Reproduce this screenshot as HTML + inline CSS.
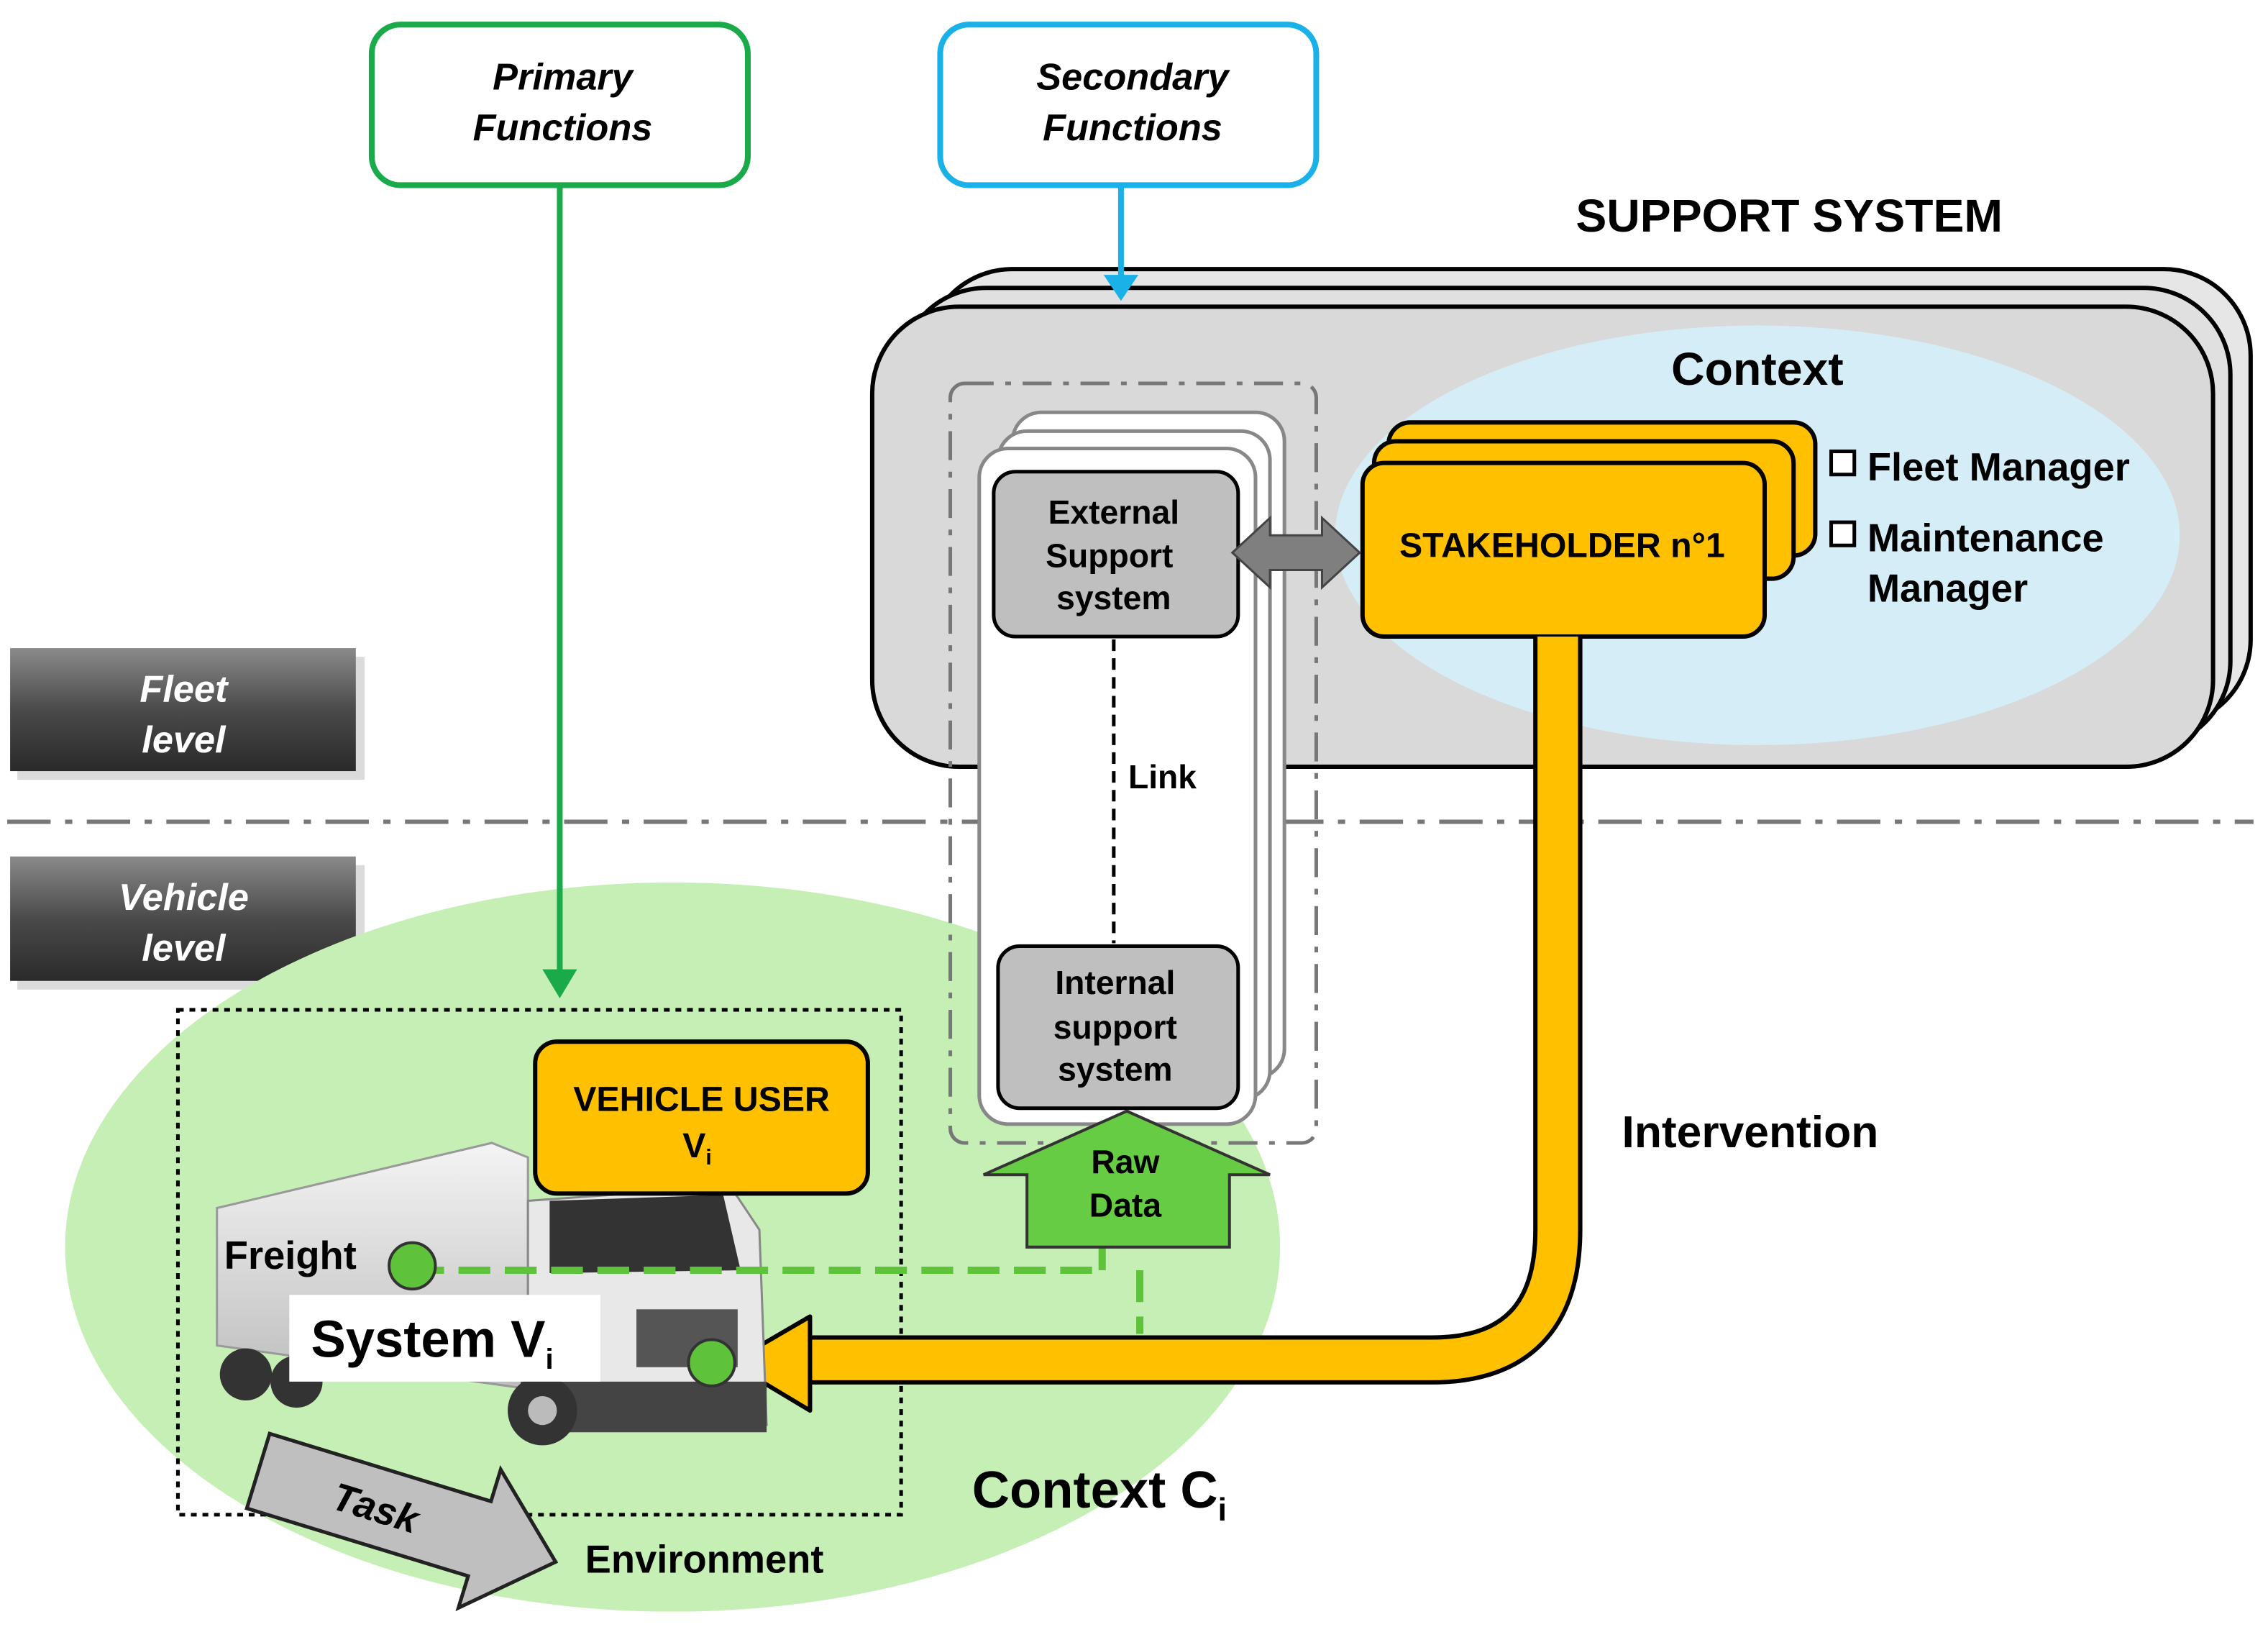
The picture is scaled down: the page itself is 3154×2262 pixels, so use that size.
<!DOCTYPE html>
<html><head><meta charset="utf-8"><style>
html,body{margin:0;padding:0;background:#fff;width:3154px;height:2262px;overflow:hidden}
svg{display:block}
text{font-family:"Liberation Sans",Arial,sans-serif;font-weight:bold}
</style></head><body>
<svg width="3154" height="2262" viewBox="0 0 1568 1124.6" preserveAspectRatio="none" xmlns="http://www.w3.org/2000/svg">
<defs>
<linearGradient id="lv" x1="0" y1="0" x2="0" y2="1"><stop offset="0" stop-color="#8a8a8a"/><stop offset="0.5" stop-color="#4a4a4a"/><stop offset="1" stop-color="#2a2a2a"/></linearGradient>
<linearGradient id="tr" x1="0" y1="0" x2="0" y2="1"><stop offset="0" stop-color="#f4f4f4"/><stop offset="1" stop-color="#bdbdbd"/></linearGradient>
</defs>
<rect x="257" y="17" width="260" height="111" rx="20" fill="#fff" stroke="#1aaa4a" stroke-width="4"/>
<text x="389" y="62" font-size="26" font-style="italic" text-anchor="middle">Primary</text>
<text x="389" y="97" font-size="26" font-style="italic" text-anchor="middle">Functions</text>
<rect x="650" y="17" width="260" height="111" rx="20" fill="#fff" stroke="#1ab0e8" stroke-width="4"/>
<text x="783" y="62" font-size="26" font-style="italic" text-anchor="middle">Secondary</text>
<text x="783" y="97" font-size="26" font-style="italic" text-anchor="middle">Functions</text>
<text x="1237" y="160" font-size="32" text-anchor="middle">SUPPORT SYSTEM</text>
<rect x="640" y="186" width="916" height="316" rx="60" fill="#e6e6e6" stroke="#000" stroke-width="3"/>
<rect x="622" y="199" width="920" height="318" rx="60" fill="#e0e0e0" stroke="#000" stroke-width="3"/>
<rect x="603" y="212" width="927" height="318" rx="60" fill="#d9d9d9" stroke="#000" stroke-width="3"/>
<line x1="775" y1="128" x2="775" y2="195" stroke="#1ab0e8" stroke-width="4"/>
<polygon points="763,190 787,190 775,208" fill="#1ab0e8"/>
<ellipse cx="1215" cy="370" rx="292" ry="145" fill="#d5edf7"/>
<text x="1215" y="266" font-size="32" text-anchor="middle">Context</text>
<line x1="5" y1="568" x2="1558" y2="568" stroke="#777" stroke-width="3" stroke-dasharray="30,10,5,10"/>
<rect x="12" y="454" width="240" height="85" fill="#999" opacity="0.35"/>
<rect x="7" y="448" width="239" height="85" fill="url(#lv)"/>
<text x="127" y="485" font-size="26" font-style="italic" fill="#fff" text-anchor="middle">Fleet</text>
<text x="127" y="520" font-size="26" font-style="italic" fill="#fff" text-anchor="middle">level</text>
<rect x="12" y="598" width="240" height="86" fill="#999" opacity="0.35"/>
<rect x="7" y="592" width="239" height="86" fill="url(#lv)"/>
<text x="127" y="629" font-size="26" font-style="italic" fill="#fff" text-anchor="middle">Vehicle</text>
<text x="127" y="664" font-size="26" font-style="italic" fill="#fff" text-anchor="middle">level</text>
<ellipse cx="465" cy="862" rx="420" ry="252" fill="#c6efb5"/>
<rect x="123" y="698" width="500" height="349" fill="none" stroke="#000" stroke-width="2.5" stroke-dasharray="4,4"/>
<rect x="960" y="292" width="295" height="92" rx="15" fill="#ffc000" stroke="#000" stroke-width="3"/>
<rect x="950" y="305" width="290" height="95" rx="15" fill="#ffc000" stroke="#000" stroke-width="3"/>
<rect x="942" y="320" width="278" height="120" rx="15" fill="#ffc000" stroke="#000" stroke-width="3"/>
<text x="1080" y="385" font-size="24" text-anchor="middle">STAKEHOLDER n°1</text>
<rect x="1266" y="312" width="16" height="16" fill="#fff" stroke="#000" stroke-width="2.5"/>
<text x="1291" y="332" font-size="27">Fleet Manager</text>
<rect x="1266" y="361" width="16" height="16" fill="#fff" stroke="#000" stroke-width="2.5"/>
<text x="1291" y="381" font-size="27">Maintenance</text>
<text x="1291" y="416" font-size="27">Manager</text>
<rect x="657" y="265" width="253" height="525" rx="10" fill="none" stroke="#777" stroke-width="2.5" stroke-dasharray="20,8,4,8"/>
<rect x="700" y="285" width="188" height="460" rx="20" fill="#fff" stroke="#888" stroke-width="2.5"/>
<rect x="690" y="298" width="188" height="462" rx="20" fill="#fff" stroke="#888" stroke-width="2.5"/>
<rect x="677" y="310" width="191" height="467" rx="20" fill="#fff" stroke="#888" stroke-width="2.5"/>
<rect x="687" y="326" width="169" height="114" rx="15" fill="#bfbfbf" stroke="#000" stroke-width="2.5"/>
<text x="770" y="362" font-size="23" text-anchor="middle">External</text>
<text x="767" y="392" font-size="23" text-anchor="middle">Support</text>
<text x="770" y="421" font-size="23" text-anchor="middle">system</text>
<line x1="770" y1="442" x2="770" y2="652" stroke="#000" stroke-width="2.5" stroke-dasharray="8,5"/>
<text x="780" y="545" font-size="23">Link</text>
<rect x="690" y="654" width="166" height="112" rx="15" fill="#bfbfbf" stroke="#000" stroke-width="2.5"/>
<text x="771" y="687" font-size="23" text-anchor="middle">Internal</text>
<text x="771" y="718" font-size="23" text-anchor="middle">support</text>
<text x="771" y="747" font-size="23" text-anchor="middle">system</text>
<polygon points="852,382 878,358 878,370 914,370 914,358 940,382 914,406 914,394 878,394 878,406" fill="#7f7f7f" stroke="#444" stroke-width="1.5"/>
<line x1="387" y1="128" x2="387" y2="675" stroke="#1aaa4a" stroke-width="4"/>
<polygon points="375,670 399,670 387,690" fill="#1aaa4a"/>
<path d="M1077,440 L1077,850 Q1077,940 990,940 L555,940" fill="none" stroke="#000" stroke-width="34"/>
<path d="M1077,440 L1077,850 Q1077,940 990,940 L555,940" fill="none" stroke="#ffc000" stroke-width="28"/>
<polygon points="505,942 560,910 560,975" fill="#ffc000" stroke="#000" stroke-width="3" stroke-linejoin="round"/>
<text x="1210" y="793" font-size="31" text-anchor="middle">Intervention</text>
<polygon points="150,835 340,790 365,800 365,960 150,930" fill="url(#tr)" stroke="#999" stroke-width="1.5"/>
<polygon points="365,830 505,820 525,850 530,985 365,990" fill="#e8e8e8" stroke="#888" stroke-width="1.5"/>
<polygon points="380,830 500,826 512,878 380,880" fill="#333"/>
<rect x="440" y="905" width="70" height="40" fill="#555"/>
<rect x="360" y="955" width="170" height="35" fill="#444"/>
<circle cx="170" cy="950" r="18" fill="#333"/><circle cx="205" cy="955" r="18" fill="#333"/>
<circle cx="375" cy="975" r="24" fill="#333"/><circle cx="375" cy="975" r="10" fill="#bbb"/>
<path d="M285,878 L760,878 M788,878 L788,922" fill="none" stroke="#5ec33a" stroke-width="5" stroke-dasharray="22,10"/>
<line x1="762" y1="862" x2="762" y2="878" stroke="#5ec33a" stroke-width="5"/>
<polygon points="779,768 878,812 850,812 850,862 710,862 710,812 680,812" fill="#66cc44" stroke="#333" stroke-width="2"/>
<text x="778" y="811" font-size="23" text-anchor="middle">Raw</text>
<text x="778" y="841" font-size="23" text-anchor="middle">Data</text>
<rect x="370" y="720" width="230" height="105" rx="15" fill="#ffc000" stroke="#000" stroke-width="3"/>
<text x="485" y="768" font-size="24" text-anchor="middle">VEHICLE USER</text>
<text x="482" y="800" font-size="24" text-anchor="middle">V<tspan font-size="15" dy="5">i</tspan></text>
<text x="155" y="877" font-size="27">Freight</text>
<circle cx="285" cy="875" r="16" fill="#5ec33a" stroke="#333" stroke-width="2"/>
<rect x="200" y="895" width="215" height="60" fill="#fff"/>
<text x="215" y="938" font-size="36">System V<tspan font-size="20" dy="8">i</tspan></text>
<circle cx="492" cy="942" r="16" fill="#5ec33a" stroke="#333" stroke-width="2"/>
<g transform="translate(180,1012) rotate(17)">
<polygon points="0,-22 160,-22 160,-45 215,5 160,55 160,32 0,32" fill="#bfbfbf" stroke="#222" stroke-width="2.5"/>
<text x="85" y="15" font-size="27" text-anchor="middle" font-style="italic">Task</text>
</g>
<text x="487" y="1087" font-size="27" text-anchor="middle">Environment</text>
<text x="672" y="1042" font-size="36">Context C<tspan font-size="22" dy="9">i</tspan></text>
</svg>
</body></html>
